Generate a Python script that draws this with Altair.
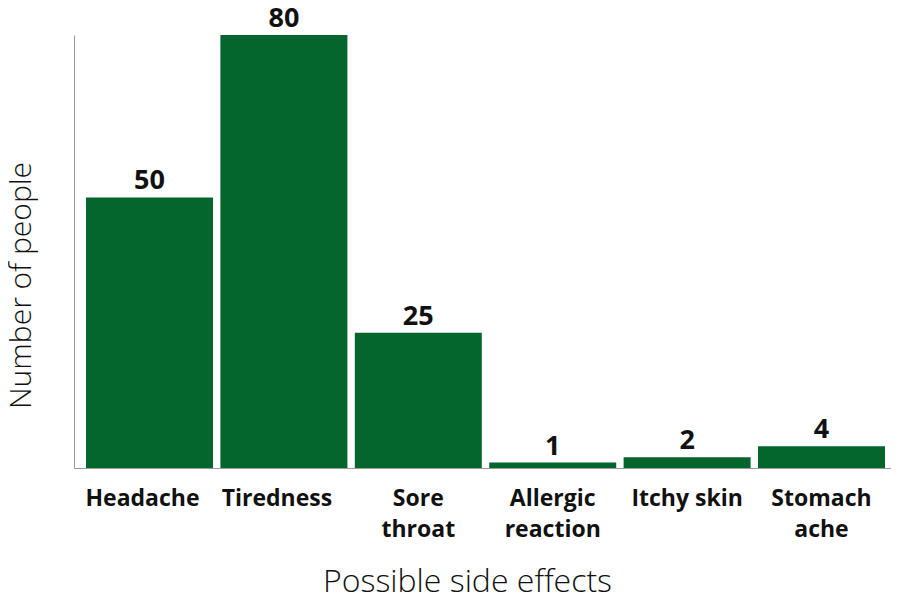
import altair as alt
import pandas as pd

categories = ["Headache", "Tiredness", "Sore throat", "Allergic reaction", "Itchy skin", "Stomach ache"]
counts = [50, 80, 25, 1, 2, 4]

df = pd.DataFrame({"effect": categories, "count": counts})

FONT = "Open Sans"
GREEN = "#05662D"

x_enc = alt.X(
    "effect:N",
    sort=categories,
    scale=alt.Scale(paddingInner=0.055, paddingOuter=0.067, align=0.667),
    axis=alt.Axis(
        title="Possible side effects",
        titleFont=FONT,
        titleFontSize=32,
        titleFontWeight=300,
        titleColor="#111111",
        titleX=393,
        titleY=123,
        titleAlign="center",
        titleBaseline="alphabetic",
        labelFont=FONT,
        labelFontSize=23,
        labelFontWeight="bold",
        labelColor="#111111",
        labelAngle=0,
        labelPadding=19,
        labelLineHeight=31,
        labelBaseline="top",
        labelOffset={
            "condition": {"test": "datum.value == 'Headache' || datum.value == 'Tiredness'", "value": -7},
            "value": 0,
        },
        labelExpr="datum.value == 'Itchy skin' ? datum.value : split(datum.value, ' ')",
        ticks=False,
        domainColor="#9a9a9a",
        domainWidth=1,
        grid=False,
    ),
)

y_enc = alt.Y(
    "count:Q",
    scale=alt.Scale(domain=[0, 80], nice=False),
    axis=alt.Axis(
        title="Number of people",
        titleFont=FONT,
        titleFontSize=30,
        titleFontWeight=300,
        titleColor="#111111",
        titleX=-44,
        titleY=250,
        titleAngle=-90,
        titleAlign="center",
        titleBaseline="alphabetic",
        labels=False,
        ticks=False,
        grid=False,
        domainColor="#9a9a9a",
        domainWidth=1,
    ),
)

base = alt.Chart(df)

bars = base.mark_bar(color=GREEN).encode(x=x_enc, y=y_enc)

text = base.mark_text(
    font=FONT,
    fontSize=27,
    fontWeight="bold",
    color="#111111",
    baseline="alphabetic",
    dy=-8,
).encode(
    x=alt.X("effect:N", sort=categories),
    y=alt.Y("count:Q"),
    text=alt.Text("count:Q"),
)

chart = (
    alt.layer(bars, text)
    .properties(
        width=817,
        height=433,
        autosize=alt.AutoSizeParams(type="none"),
        padding={"left": 66, "top": 27, "right": 0, "bottom": 128},
        view=alt.ViewBackground(strokeOpacity=0, strokeWidth=0),
    )
    .configure_view(strokeOpacity=0, strokeWidth=0)
    .configure_axis(grid=False)
    .configure(background="white")
)

chart.save("out.html", embed_options={"renderer": "svg", "actions": False})
